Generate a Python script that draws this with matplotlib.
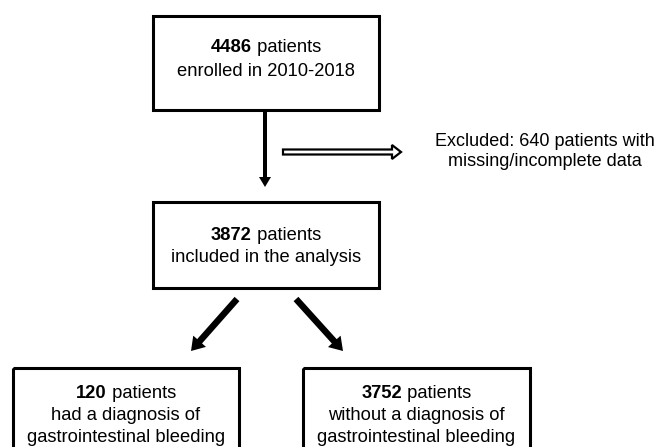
import matplotlib
matplotlib.use('Agg')
import matplotlib.pyplot as plt
from matplotlib.patches import Rectangle, FancyArrow

plt.rcParams['font.family'] = ['Liberation Sans', 'DejaVu Sans']

# Box contents: bold count + rest of first line, then extra lines
counts = ['4486', '3872', '120', '3752']
first_rest = [' patients', ' patients', ' patients', ' patients']
extra_lines = [
    ['enrolled in 2010-2018'],
    ['included in the analysis'],
    ['had a diagnosis of', 'gastrointestinal bleeding'],
    ['without a diagnosis of', 'gastrointestinal bleeding'],
]
excluded_lines = ['Excluded: 640 patients with', 'missing/incomplete data']

# Box geometry in pixel coordinates (x0, y0, x1, y1), y downward
boxes = [(153, 16, 379, 110), (153, 202, 379, 288), (13, 368, 239, 470), (303, 368, 530, 470)]
first_line_y = [48, 235, 394, 394]
line_gaps = [23, 23, 22, 22]
fs = 13.2

fig = plt.figure(figsize=(6.62, 4.47), dpi=100)
ax = fig.add_axes([0, 0, 1, 1])
ax.set_xlim(0, 662)
ax.set_ylim(447, 0)
ax.axis('off')

fig.canvas.draw()
renderer = fig.canvas.get_renderer()

for i, (x0, y0, x1, y1) in enumerate(boxes):
    ax.add_patch(Rectangle((x0, y0), x1 - x0, y1 - y0, fill=False, lw=2.2, ec='black'))
    cx = (x0 + x1) / 2
    y = first_line_y[i]
    # measure the two parts so the mixed bold/regular line is centred
    t1 = ax.text(0, y, counts[i], fontsize=fs, fontweight='bold', va='center', ha='left')
    t2 = ax.text(0, y, first_rest[i], fontsize=fs, va='center', ha='left')
    w1 = t1.get_window_extent(renderer).width
    w2 = t2.get_window_extent(renderer).width
    start = cx - (w1 + w2) / 2
    t1.set_x(start)
    t2.set_x(start + w1)
    for j, line in enumerate(extra_lines[i]):
        ax.text(cx, y + line_gaps[i] * (j + 1), line, fontsize=fs, ha='center', va='center')

for j, line in enumerate(excluded_lines):
    ax.text(545, 142 + 20 * j, line, fontsize=13, ha='center', va='center')

# solid arrows
ax.add_patch(FancyArrow(265, 112, 0, 75, width=4, head_width=12, head_length=10,
                        length_includes_head=True, color='black', lw=0))
ax.add_patch(FancyArrow(237, 299, -46, 52, width=6.5, head_width=17, head_length=13,
                        length_includes_head=True, color='black', lw=0))
ax.add_patch(FancyArrow(296, 299, 47, 52, width=6.5, head_width=17, head_length=13,
                        length_includes_head=True, color='black', lw=0))
# hollow exclusion arrow
ax.add_patch(FancyArrow(283, 152, 118, 0, width=5, head_width=14, head_length=9,
                        length_includes_head=True, fc='white', ec='black', lw=1.6))

plt.savefig('out.png', dpi=100)
plt.close()
